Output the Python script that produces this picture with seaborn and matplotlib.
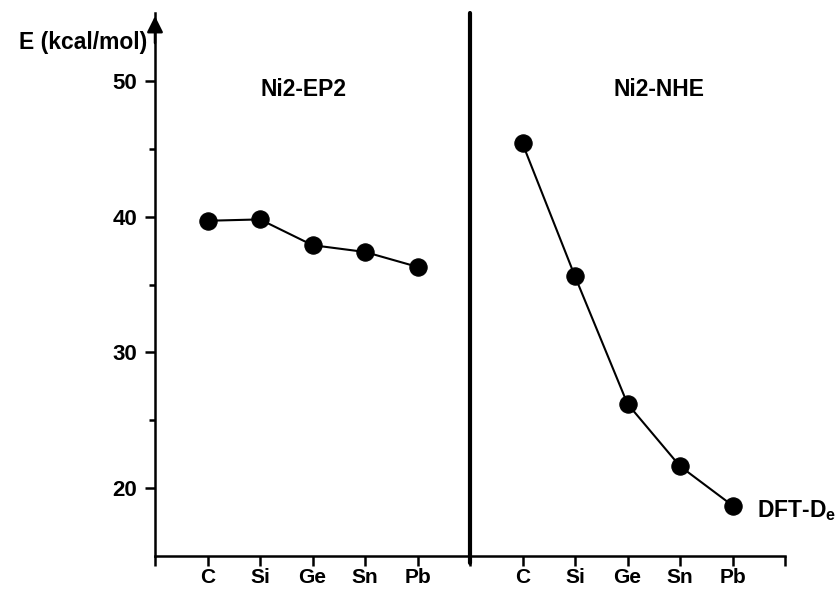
import numpy as np
import pandas as pd
import seaborn as sns
import matplotlib.pyplot as plt

# values
elements = ['C', 'Si', 'Ge', 'Sn', 'Pb']
ep2_vals = [39.7, 39.8, 37.9, 37.4, 36.3]
nhe_vals = [45.4, 35.6, 26.2, 21.6, 18.7]
panel_names = ['Ni2-EP2', 'Ni2-NHE']
y_major = [20, 30, 40, 50]
y_minor = [25, 35, 45]

sns.set_style('ticks')
plt.rcParams['font.family'] = ['Liberation Sans', 'DejaVu Sans']
plt.rcParams['font.weight'] = 'bold'
plt.rcParams['text.color'] = 'black'
plt.rcParams['xtick.color'] = 'black'
plt.rcParams['ytick.color'] = 'black'
plt.rcParams['axes.edgecolor'] = 'black'
plt.rcParams['mathtext.fontset'] = 'custom'
plt.rcParams['mathtext.bf'] = 'Liberation Sans:bold'
plt.rcParams['mathtext.rm'] = 'Liberation Sans:bold'

# left block at positions 1..5, right block at 7..11
n = len(elements)
pos_left = np.arange(1, n + 1)
pos_right = pos_left + n + 1
df = pd.DataFrame({
    'pos': np.concatenate([pos_left, pos_right]),
    'E': ep2_vals + nhe_vals,
    'model': [panel_names[0]] * n + [panel_names[1]] * n,
})

fig = plt.figure(figsize=(8.38, 5.91), dpi=100)
ax = fig.add_axes([155 / 838, 1 - 555.7 / 591, 630 / 838, 542.4 / 591])

sns.lineplot(data=df, x='pos', y='E', hue='model', palette=['black', 'black'],
             marker='o', markersize=12.5, markeredgecolor='black', linewidth=1.5,
             legend=False, ax=ax)

ax.set_xlim(0, 2 * n + 2)
ax.set_ylim(15, 55)

ax.set_xticks(np.arange(0, 2 * n + 3))
ax.set_xticklabels([''] + elements + [''] + elements + [''])
ax.set_yticks(y_major)
ax.set_yticks(y_minor, minor=True)
ax.tick_params(axis='both', which='major', direction='out', length=7, width=1.8)
ax.tick_params(axis='y', which='major', pad=6, labelsize=16)
ax.tick_params(axis='x', which='major', pad=2, labelsize=15)
ax.tick_params(axis='y', which='minor', direction='out', length=4.5, width=1.8)
for lab in ax.get_xticklabels() + ax.get_yticklabels():
    lab.set_fontweight('bold')

ax.set_xlabel('')
ax.set_ylabel('')
sns.despine(ax=ax, top=True, right=True)
ax.spines['left'].set_linewidth(1.8)
ax.spines['bottom'].set_linewidth(1.8)

# arrow head on top of the y axis
ax.annotate('', xy=(0, 1.0), xytext=(0, 0.94), xycoords='axes fraction',
            arrowprops=dict(arrowstyle='-|>', color='black', lw=1.8,
                            mutation_scale=24))

# divider between the two blocks
ax.axvline(n + 1, ymin=-0.014, ymax=1, color='black', lw=3, clip_on=False)

ax.text(2.82, 49.4, panel_names[0], ha='center', va='center',
        fontsize=16.5, fontweight='bold')
ax.text(9.6, 49.4, panel_names[1], ha='center', va='center',
        fontsize=16.5, fontweight='bold')
ax.text(11.47, 18.3, r'DFT-D$_\mathbf{e}$', ha='left', va='center',
        fontsize=16.5, fontweight='bold')

fig.text(147 / 838, 1 - 43 / 591, 'E (kcal/mol)', ha='right', va='center',
         fontsize=16.5, fontweight='bold')

fig.savefig('out.png', dpi=100)
